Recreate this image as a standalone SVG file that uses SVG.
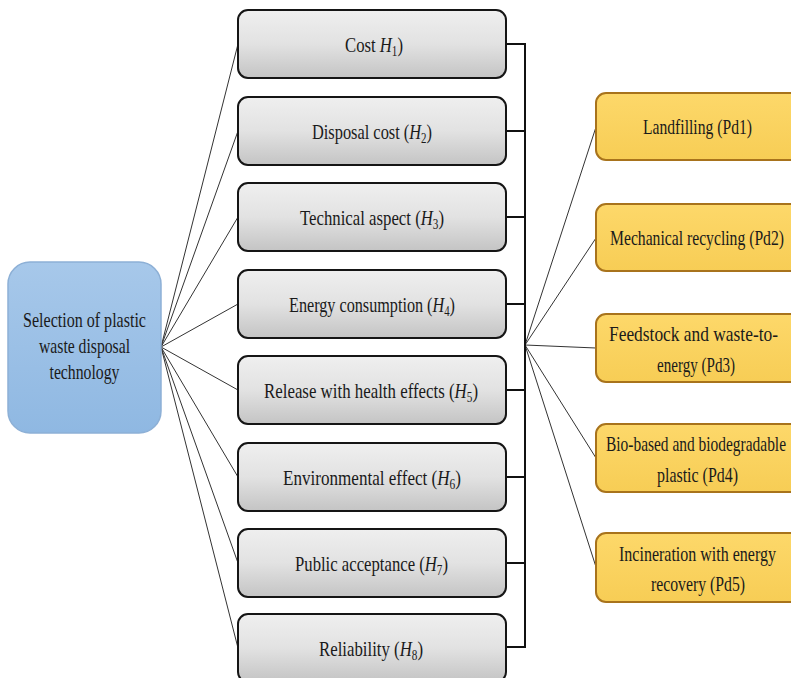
<svg xmlns="http://www.w3.org/2000/svg" width="791" height="678" viewBox="0 0 791 678">
<defs>
<linearGradient id="gGray" x1="0" y1="0" x2="0" y2="1">
<stop offset="0" stop-color="#efefef"/>
<stop offset="0.5" stop-color="#e2e2e2"/>
<stop offset="1" stop-color="#c4c4c4"/>
</linearGradient>
<linearGradient id="gBlue" x1="0" y1="0" x2="0" y2="1">
<stop offset="0" stop-color="#a7c8ea"/>
<stop offset="1" stop-color="#8fb8e2"/>
</linearGradient>
<linearGradient id="gYel" x1="0" y1="0" x2="0" y2="1">
<stop offset="0" stop-color="#fdd86a"/>
<stop offset="1" stop-color="#f7cd55"/>
</linearGradient>
</defs>
<style>
text{font-size:21px;fill:#1a1a1a;text-anchor:middle}
.mid{fill:url(#gGray);stroke:#151515;stroke-width:2}
.yel{fill:url(#gYel);stroke:#a8731c;stroke-width:2}
.thin{stroke:#333;stroke-width:1;fill:none}
.br{stroke:#111;stroke-width:2;fill:none}
.i{font-style:italic}
.s{font-size:14px}
</style>
<rect width="791" height="678" fill="#fff"/>

<g id="connectors">
<g class="thin">
<line x1="161" y1="347" x2="238" y2="44"/>
<line x1="161" y1="347" x2="238" y2="131"/>
<line x1="161" y1="347" x2="238" y2="217"/>
<line x1="161" y1="347" x2="238" y2="304"/>
<line x1="161" y1="347" x2="238" y2="390"/>
<line x1="161" y1="347" x2="238" y2="477"/>
<line x1="161" y1="347" x2="238" y2="563"/>
<line x1="161" y1="347" x2="238" y2="648"/>
<line x1="525" y1="345" x2="596" y2="127"/>
<line x1="525" y1="345" x2="596" y2="238"/>
<line x1="525" y1="345" x2="596" y2="348"/>
<line x1="525" y1="345" x2="596" y2="458"/>
<line x1="525" y1="345" x2="596" y2="567"/>
</g>
<g class="br">
<line x1="525" y1="43" x2="525" y2="648"/>
<line x1="506" y1="44" x2="525" y2="44"/>
<line x1="506" y1="131" x2="525" y2="131"/>
<line x1="506" y1="217" x2="525" y2="217"/>
<line x1="506" y1="304" x2="525" y2="304"/>
<line x1="506" y1="390" x2="525" y2="390"/>
<line x1="506" y1="477" x2="525" y2="477"/>
<line x1="506" y1="563" x2="525" y2="563"/>
<line x1="506" y1="647" x2="525" y2="647"/>
</g>
</g>

<g font-family="Liberation Serif, DejaVu Serif, serif">
<g id="root">
<rect x="8" y="262" width="153" height="171" rx="22" fill="url(#gBlue)" stroke="#8db0d6" stroke-width="1.5"/>
<text x="84.5" y="327" textLength="123" lengthAdjust="spacingAndGlyphs">Selection of plastic</text>
<text x="84.5" y="353" textLength="91" lengthAdjust="spacingAndGlyphs">waste disposal</text>
<text x="84.5" y="379" textLength="70" lengthAdjust="spacingAndGlyphs">technology</text>
</g>

<g id="h1"><rect class="mid" x="238" y="10" width="268" height="68" rx="10"/>
<text x="374" y="52" textLength="58" lengthAdjust="spacingAndGlyphs">Cost <tspan class="i">H</tspan><tspan class="s" dy="4">1</tspan><tspan dy="-4">)</tspan></text></g>
<g id="h2"><rect class="mid" x="238" y="97" width="268" height="68" rx="10"/>
<text x="372" y="139" textLength="120" lengthAdjust="spacingAndGlyphs">Disposal cost (<tspan class="i">H</tspan><tspan class="s" dy="4">2</tspan><tspan dy="-4">)</tspan></text></g>
<g id="h3"><rect class="mid" x="238" y="183" width="268" height="68" rx="10"/>
<text x="372" y="225" textLength="144" lengthAdjust="spacingAndGlyphs">Technical aspect (<tspan class="i">H</tspan><tspan class="s" dy="4">3</tspan><tspan dy="-4">)</tspan></text></g>
<g id="h4"><rect class="mid" x="238" y="270" width="268" height="68" rx="10"/>
<text x="372" y="312" textLength="166" lengthAdjust="spacingAndGlyphs">Energy consumption (<tspan class="i">H</tspan><tspan class="s" dy="4">4</tspan><tspan dy="-4">)</tspan></text></g>
<g id="h5"><rect class="mid" x="238" y="356" width="268" height="68" rx="10"/>
<text x="371" y="398" textLength="214" lengthAdjust="spacingAndGlyphs">Release with health effects (<tspan class="i">H</tspan><tspan class="s" dy="4">5</tspan><tspan dy="-4">)</tspan></text></g>
<g id="h6"><rect class="mid" x="238" y="443" width="268" height="68" rx="10"/>
<text x="372" y="485" textLength="178" lengthAdjust="spacingAndGlyphs">Environmental effect (<tspan class="i">H</tspan><tspan class="s" dy="4">6</tspan><tspan dy="-4">)</tspan></text></g>
<g id="h7"><rect class="mid" x="238" y="529" width="268" height="68" rx="10"/>
<text x="371.5" y="571" textLength="153" lengthAdjust="spacingAndGlyphs">Public acceptance (<tspan class="i">H</tspan><tspan class="s" dy="4">7</tspan><tspan dy="-4">)</tspan></text></g>
<g id="h8"><rect class="mid" x="238" y="614" width="268" height="68" rx="10"/>
<text x="371" y="656" textLength="104" lengthAdjust="spacingAndGlyphs">Reliability (<tspan class="i">H</tspan><tspan class="s" dy="4">8</tspan><tspan dy="-4">)</tspan></text></g>

<g id="pd1"><rect class="yel" x="596" y="93" width="210" height="67" rx="10"/>
<text x="697.5" y="134" textLength="109" lengthAdjust="spacingAndGlyphs">Landfilling (Pd1)</text></g>
<g id="pd2"><rect class="yel" x="596" y="204" width="210" height="67" rx="10"/>
<text x="697" y="245" textLength="174" lengthAdjust="spacingAndGlyphs">Mechanical recycling (Pd2)</text></g>
<g id="pd3"><rect class="yel" x="596" y="314" width="210" height="68" rx="10"/>
<text x="693.5" y="341" textLength="169" lengthAdjust="spacingAndGlyphs">Feedstock and waste-to-</text>
<text x="696" y="372" textLength="78" lengthAdjust="spacingAndGlyphs">energy (Pd3)</text></g>
<g id="pd4"><rect class="yel" x="596" y="424" width="210" height="68" rx="10"/>
<text x="696" y="451" textLength="180" lengthAdjust="spacingAndGlyphs">Bio-based and biodegradable</text>
<text x="697.5" y="482" textLength="81" lengthAdjust="spacingAndGlyphs">plastic (Pd4)</text></g>
<g id="pd5"><rect class="yel" x="596" y="533" width="210" height="69" rx="10"/>
<text x="697.5" y="561" textLength="157" lengthAdjust="spacingAndGlyphs">Incineration with energy</text>
<text x="698" y="591" textLength="94" lengthAdjust="spacingAndGlyphs">recovery (Pd5)</text></g>
</g>
</svg>
